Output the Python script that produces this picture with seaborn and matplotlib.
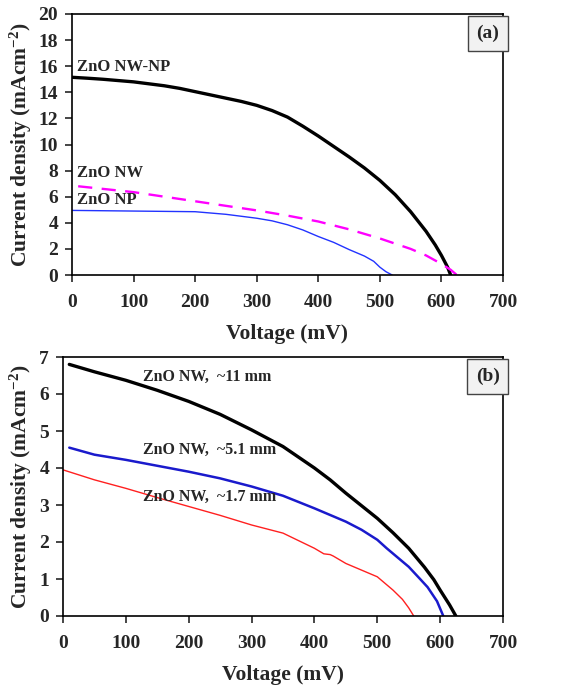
import matplotlib
matplotlib.use("Agg")
import matplotlib.pyplot as plt
import seaborn as sns

# panel (a): J-V curves for the three photoanodes
a_v_nwnp = [0, 25, 50, 75, 100, 125, 150, 175, 200, 225, 250, 275, 300, 325, 350, 375,
            400, 425, 450, 475, 500, 525, 550, 575, 590, 600, 610, 615]
a_j_nwnp = [15.15, 15.08, 15.0, 14.9, 14.8, 14.65, 14.5, 14.3, 14.05, 13.8, 13.55, 13.3,
            13.0, 12.6, 12.1, 11.4, 10.65, 9.85, 9.05, 8.2, 7.25, 6.15, 4.85, 3.35, 2.3, 1.5, 0.6, 0]
a_v_nw = [10, 50, 100, 150, 200, 250, 300, 350, 400, 450, 500, 525, 550, 575, 600, 615, 625]
a_j_nw = [6.8, 6.6, 6.35, 6.0, 5.65, 5.3, 4.95, 4.55, 4.1, 3.5, 2.8, 2.4, 2.0, 1.5, 0.85, 0.4, 0]
a_v_np = [0, 100, 200, 225, 250, 275, 300, 325, 350, 375, 400, 425, 450, 475, 490, 500, 510, 520]
a_j_np = [4.95, 4.9, 4.85, 4.75, 4.65, 4.5, 4.35, 4.15, 3.85, 3.45, 2.95, 2.5, 1.95, 1.45,
          1.05, 0.6, 0.25, 0]

# panel (b): ZnO NW of different lengths
b_v_11 = [10, 50, 100, 150, 200, 250, 300, 350, 400, 425, 450, 475, 500, 525, 550, 575,
          590, 600, 615, 625]
b_j_11 = [6.8, 6.6, 6.37, 6.1, 5.8, 5.45, 5.03, 4.58, 4.0, 3.68, 3.32, 2.98, 2.64, 2.25,
          1.83, 1.32, 0.98, 0.7, 0.3, 0]
b_v_51 = [10, 50, 100, 150, 200, 250, 300, 350, 400, 450, 475, 500, 515, 550, 567, 580, 595, 605]
b_j_51 = [4.55, 4.36, 4.22, 4.06, 3.9, 3.72, 3.5, 3.25, 2.91, 2.55, 2.33, 2.06, 1.83, 1.33,
          1.02, 0.78, 0.4, 0]
b_v_17 = [0, 50, 100, 150, 200, 250, 300, 350, 400, 415, 425, 430, 450, 500, 525, 540, 550, 558]
b_j_17 = [3.95, 3.68, 3.45, 3.2, 2.96, 2.72, 2.46, 2.24, 1.83, 1.68, 1.66, 1.62, 1.42, 1.06,
          0.7, 0.45, 0.22, 0]

a_labels = ["ZnO NW-NP", "ZnO NW", "ZnO NP"]
b_labels = ["ZnO NW,  ~11 mm", "ZnO NW,  ~5.1 mm", "ZnO NW,  ~1.7 mm"]

sns.set_style("white")
plt.rcParams["font.family"] = ["Liberation Serif", "DejaVu Serif"]
plt.rcParams["font.weight"] = "bold"
plt.rcParams["axes.labelweight"] = "bold"
plt.rcParams["mathtext.fontset"] = "custom"
plt.rcParams["mathtext.rm"] = "Liberation Serif:bold"
plt.rcParams["mathtext.default"] = "regular"

fig = plt.figure(figsize=(5.68, 6.92), dpi=100)
W, H = 568, 692
ax1 = fig.add_axes([72 / W, 1 - 275 / H, (503 - 72) / W, (275 - 14) / H])
ax2 = fig.add_axes([63 / W, 1 - 616 / H, (503 - 63) / W, (616 - 357) / H])

# (a)
sns.lineplot(x=a_v_nwnp, y=a_j_nwnp, ax=ax1, color="black", lw=2.4)
sns.lineplot(x=a_v_nw, y=a_j_nw, ax=ax1, color="#ff00ff", lw=1.7)
ax1.lines[-1].set_dashes([6, 4])
sns.lineplot(x=a_v_np, y=a_j_np, ax=ax1, color="#2233ff", lw=1.0)
ax1.text(8, 15.35, a_labels[0], fontsize=12, va="bottom")
ax1.text(8, 7.2, a_labels[1], fontsize=12, va="bottom")
ax1.text(8, 5.1, a_labels[2], fontsize=12, va="bottom")
ax1.set_xlim(0, 700)
ax1.set_ylim(0, 20)
ax1.set_yticks(range(0, 21, 2))
ax1.yaxis.set_label_coords(-0.088, 0.5)

# (b)
sns.lineplot(x=b_v_11, y=b_j_11, ax=ax2, color="black", lw=2.4)
sns.lineplot(x=b_v_51, y=b_j_51, ax=ax2, color="#1a1acc", lw=1.8)
sns.lineplot(x=b_v_17, y=b_j_17, ax=ax2, color="#ff2020", lw=1.0)
ax2.text(127, 6.47, b_labels[0], fontsize=11.5, va="center")
ax2.text(127, 4.49, b_labels[1], fontsize=11.5, va="center")
ax2.text(127, 3.23, b_labels[2], fontsize=11.5, va="center")
ax2.set_xlim(0, 700)
ax2.set_ylim(0, 7)
ax2.set_yticks(range(0, 8))
ax2.yaxis.set_label_coords(-0.066, 0.5)

for ax, tag in [(ax1, "(a)"), (ax2, "(b)")]:
    ax.set_xticks(range(0, 701, 100))
    ax.tick_params(direction="out", length=5, width=1.2, labelsize=14,
                   bottom=True, left=True)
    ax.tick_params(axis="x", pad=9)
    ax.tick_params(axis="y", pad=5)
    for s in ax.spines.values():
        s.set_color("black")
        s.set_linewidth(1.2)
    ax.set_xlabel("Voltage (mV)", fontsize=15.5, labelpad=9)
    ax.set_ylabel("Current density (mAcm$^{-2}$)", fontsize=15.5)
    ax.text(0.965, 0.925, tag, transform=ax.transAxes, fontsize=14,
            ha="center", va="center",
            bbox=dict(boxstyle="square,pad=0.45", fc="#f2f2f2", ec="#444444", lw=1))

fig.savefig("out.png", dpi=100)
